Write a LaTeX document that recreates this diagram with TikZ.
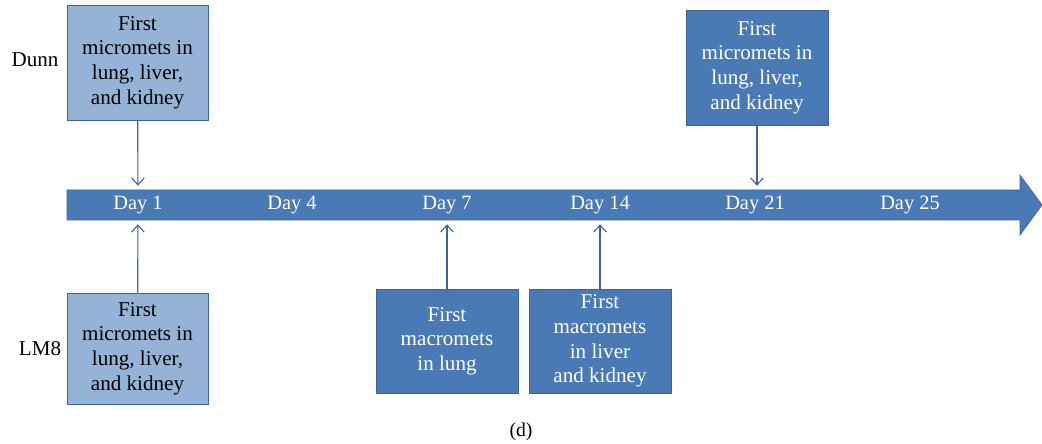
\documentclass[tikz,border=0pt]{standalone}
\usepackage{fontspec}
\setmainfont{Liberation Serif}
\usepackage{tikz}
\usetikzlibrary{arrows.meta}
\usetikzlibrary{calc}

\definecolor{lightblue}{HTML}{95B3D7}
\definecolor{darkblue}{HTML}{4A7AB5}
\definecolor{edgeblue}{HTML}{3F6394}

\tikzset{
  lightbox/.style={draw=edgeblue,fill=lightblue,minimum width=3.525cm,align=center,
    text=black,font=\fontsize{15}{17.5}\selectfont},
  darkbox/.style={draw=edgeblue,fill=darkblue,minimum width=3.55cm,align=center,
    text=white,font=\fontsize{15}{17.5}\selectfont},
  daylabel/.style={text=white,minimum height=0.95cm,font=\fontsize{14.5}{17}\selectfont},
  pointer/.style={draw=edgeblue,line width=0.8pt,-{Straight Barb[length=5pt,width=9pt]}}
}

\begin{document}
\begin{tikzpicture}[x=0.025cm,y=-0.025cm]
  \useasboundingbox (0,0) rectangle (1042,444);
  % timeline
  \draw[edgeblue,fill=darkblue,line width=0.5pt] (67,190) -- (1020,190) -- (1020,175) -- (1042,205)
    -- (1020,235) -- (1020,220) -- (67,220) -- cycle;
  \node[daylabel] (d1) at (138,205) {Day 1};
  \node[daylabel] (d4) at (292,205) {Day 4};
  \node[daylabel] (d7) at (447,205) {Day 7};
  \node[daylabel] (d14) at (600,205) {Day 14};
  \node[daylabel] (d21) at (755,205) {Day 21};
  \node[daylabel] (d25) at (910,205) {Day 25};
  % cell lines
  \node[font=\fontsize{15}{17.5}\selectfont] (dunn) at (35,60) {Dunn};
  \node[font=\fontsize{15}{17.5}\selectfont] (lm8) at (40,349) {LM8};
  % boxes
  \node[lightbox,minimum height=2.875cm] (dunnmicro) at (137.5,62.5) {First\\micromets in\\lung, liver,\\and kidney};
  \node[lightbox,minimum height=2.775cm] (lmmicro) at (137.5,348.5) {First\\micromets in\\lung, liver,\\and kidney};
  \node[darkbox,minimum height=2.875cm] (dunnlate) at (757,67.5) {First\\micromets in\\lung, liver,\\and kidney};
  \node[darkbox,minimum height=2.6cm] (lung) at (447,341) {First\\macromets\\in lung};
  \node[darkbox,minimum height=2.6cm] (liver) at (600,341) {First\\macromets\\in liver\\and kidney};
  % pointers
  \draw[pointer] (dunnmicro) -- (d1);
  \draw[pointer] (lmmicro) -- (d1);
  \draw[pointer] (dunnlate.south) -- (d21.north -| dunnlate.south);
  \draw[pointer] (lung) -- (d7);
  \draw[pointer] (liver) -- (d14.south -| liver.north);
  \node[font=\fontsize{14}{16}\selectfont] (caption) at (521,432) {(d)};
\end{tikzpicture}
\end{document}
